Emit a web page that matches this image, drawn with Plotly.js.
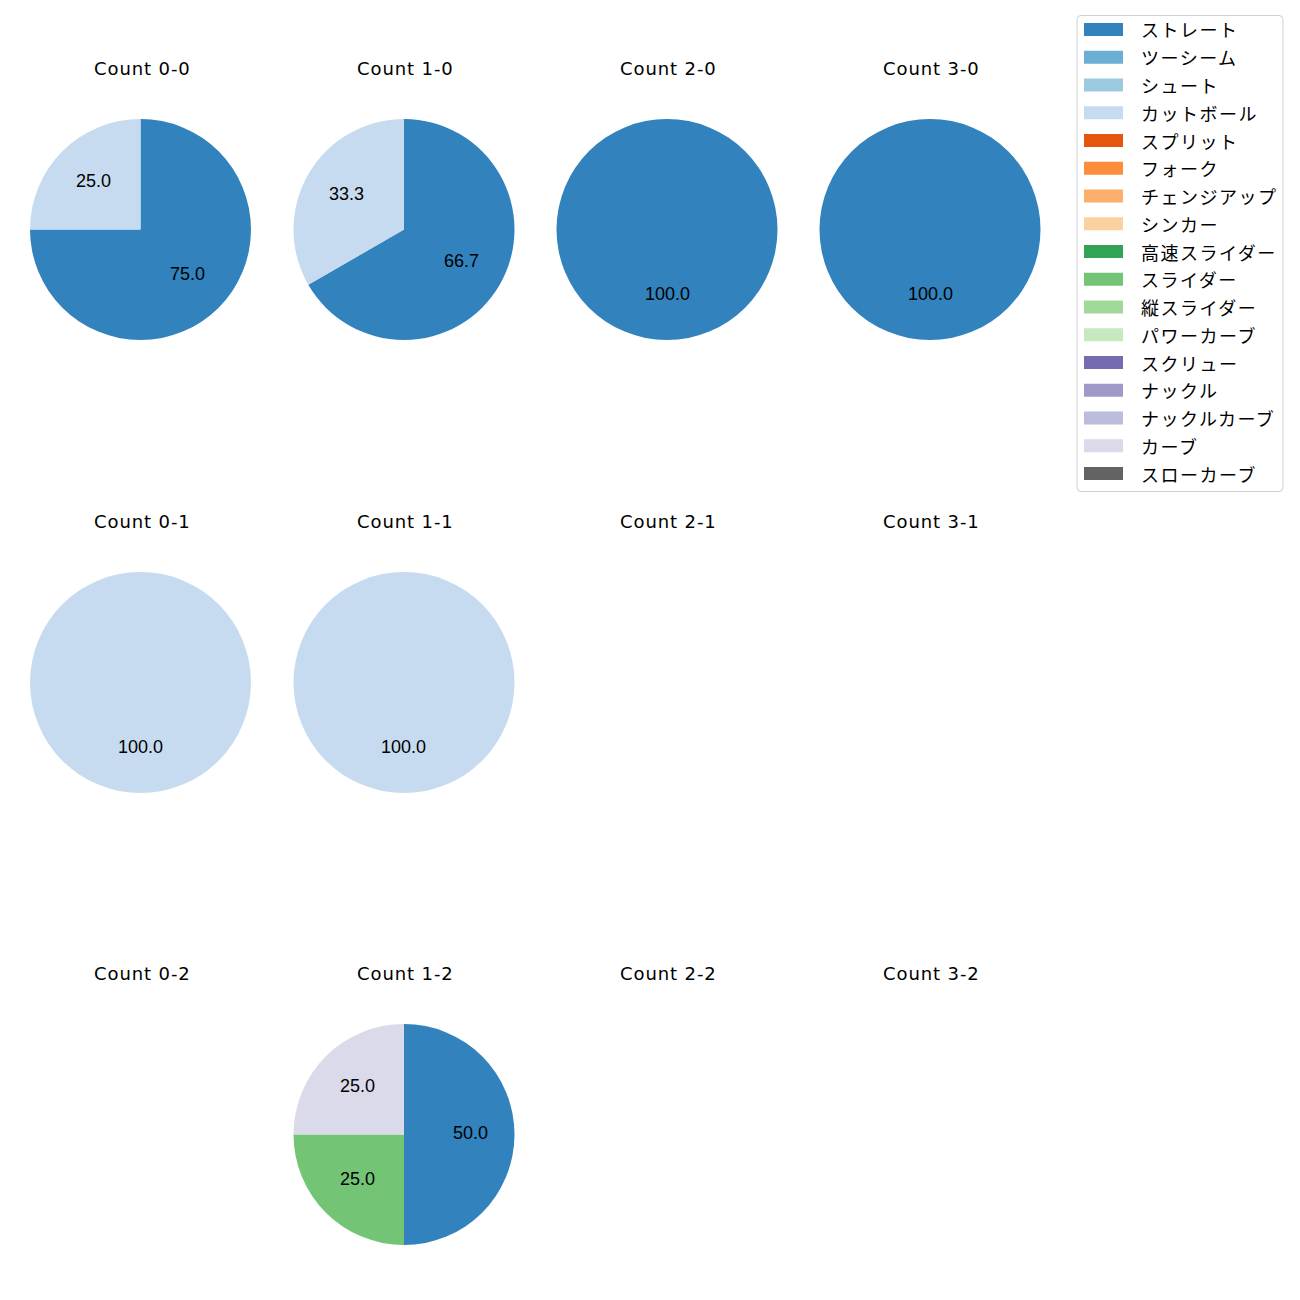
<!DOCTYPE html>
<html>
<head>
<meta charset="utf-8">
<script src="https://cdn.plot.ly/plotly-3.0.1.min.js"></script>
<style>html,body{margin:0;padding:0;background:#fff;}</style>
</head>
<body>
<div id="chart" style="width:1300px;height:1300px;"></div>
<script>
// Pitch types (legend order) and their colours
const pitchTypes = ['ストレート','ツーシーム','シュート','カットボール','スプリット','フォーク','チェンジアップ','シンカー','高速スライダー','スライダー','縦スライダー','パワーカーブ','スクリュー','ナックル','ナックルカーブ','カーブ','スローカーブ'];
const pitchColors = ['#3182bd','#6baed6','#9ecae1','#c6dbef','#e6550d','#fd8d3c','#fdae6b','#fdd0a2','#31a354','#74c476','#a1d99b','#c7e9c0','#756bb1','#9e9ac8','#bcbddc','#dadaeb','#636363'];

// Subplot titles (row-major, 4 columns x 3 rows)
const countTitles = ['Count 0-0','Count 1-0','Count 2-0','Count 3-0','Count 0-1','Count 1-1','Count 2-1','Count 3-1','Count 0-2','Count 1-2','Count 2-2','Count 3-2'];

// Pitch labels and counts per ball-strike count
const labels00 = ['ストレート','カットボール']; const values00 = [3,1];
const labels10 = ['ストレート','カットボール']; const values10 = [2,1];
const labels20 = ['ストレート']; const values20 = [1];
const labels30 = ['ストレート']; const values30 = [1];
const labels01 = ['カットボール']; const values01 = [1];
const labels11 = ['カットボール']; const values11 = [1];
const labels21 = []; const values21 = [];
const labels31 = []; const values31 = [];
const labels02 = []; const values02 = [];
const labels12 = ['ストレート','スライダー','カーブ']; const values12 = [2,1,1];
const labels22 = []; const values22 = [];
const labels32 = []; const values32 = [];

const allLabels = [labels00,labels10,labels20,labels30,labels01,labels11,labels21,labels31,labels02,labels12,labels22,labels32];
const allValues = [values00,values10,values20,values30,values01,values11,values21,values31,values02,values12,values22,values32];

// Layout geometry (pixels)
const W = 1300, H = 1300;
const colCenters = [140.5, 404, 667, 930];
const rowCenters = [229.5, 682.5, 1134.5];
const titleY = [68.5, 521.5, 973.5];
const R = 110.5;
const TITLE_FONT = '"DejaVu Sans", sans-serif';
const PCT_FONT = '"Liberation Sans", Arial, sans-serif';
const JP_FONT = '"Noto Sans CJK JP", "Noto Sans", sans-serif';
const spaced = (t, px) => '<span style="letter-spacing:' + px + 'px">' + t + '</span>';

const colorOf = {};
pitchTypes.forEach((p,i)=>colorOf[p]=pitchColors[i]);

const data = [];
const annotations = [];
const shapes = [];

for (let k = 0; k < 12; k++) {
  const col = k % 4, row = Math.floor(k / 4);
  const cx = colCenters[col], cy = rowCenters[row];
  annotations.push({
    text: spaced(countTitles[k], 0.9), xref:'paper', yref:'paper',
    x: (cx+1.5) / W, y: 1 - titleY[row] / H, xanchor:'center', yanchor:'middle',
    showarrow:false, font:{family:TITLE_FONT, size:18, color:'#000'}
  });
  const labs = allLabels[k], vals = allValues[k];
  if (!labs.length) continue;
  data.push({
    type:'pie', labels: labs, values: vals, sort:false, direction:'clockwise', rotation:0,
    marker:{colors: labs.map(l=>colorOf[l]), line:{width:0}},
    textinfo:'none', hoverinfo:'skip', showlegend:false,
    domain:{x:[(cx-R)/W,(cx+R)/W], y:[1-(cy+R)/H, 1-(cy-R)/H]}
  });
  // percentage labels at 0.6 radius (matplotlib style)
  const total = vals.reduce((a,b)=>a+b,0);
  let start = 90;
  vals.forEach(v=>{
    const sweep = 360 * v / total;
    const mid = (start - sweep/2) * Math.PI / 180;
    start -= sweep;
    const px = cx + 0.6*R*Math.cos(mid);
    const py = cy - 0.6*R*Math.sin(mid) - 2;
    annotations.push({
      text: (100*v/total).toFixed(1), xref:'paper', yref:'paper',
      x: px/W, y: 1-py/H, xanchor:'center', yanchor:'middle', showarrow:false,
      font:{family:PCT_FONT, size:18, color:'#000'}
    });
  });
}

// Legend (drawn manually, matplotlib style)
const lgX0 = 1077, lgX1 = 1283, lgY0 = 15.5, lgY1 = 491.5;
shapes.push({type:'path', xref:'paper', yref:'paper',
  path: (()=>{
    const r = 4;
    const P=(x,y)=>(x/W)+','+(1-y/H);
    return 'M'+P(lgX0+r,lgY0)+' L'+P(lgX1-r,lgY0)+' Q'+P(lgX1,lgY0)+' '+P(lgX1,lgY0+r)+
      ' L'+P(lgX1,lgY1-r)+' Q'+P(lgX1,lgY1)+' '+P(lgX1-r,lgY1)+
      ' L'+P(lgX0+r,lgY1)+' Q'+P(lgX0,lgY1)+' '+P(lgX0,lgY1-r)+
      ' L'+P(lgX0,lgY0+r)+' Q'+P(lgX0,lgY0)+' '+P(lgX0+r,lgY0)+' Z';
  })(),
  line:{color:'#d0d0d0', width:1}, fillcolor:'rgba(255,255,255,0.8)'});
const lgStep = 27.75, lgFirst = 29.5;
pitchTypes.forEach((p,i)=>{
  const y = lgFirst + i*lgStep;
  shapes.push({type:'rect', xref:'paper', yref:'paper',
    x0:1084/W, x1:1123/W, y0:1-(y-6.5)/H, y1:1-(y+6.5)/H,
    fillcolor: pitchColors[i], line:{width:0}});
  annotations.push({text:spaced(p, 1.5), xref:'paper', yref:'paper', x:1139/W, y:1-y/H,
    xanchor:'left', yanchor:'middle', showarrow:false,
    font:{family:JP_FONT, size:18, color:'#000'}});
});

const layout = {
  width: W, height: H, margin:{l:0,r:0,t:0,b:0},
  paper_bgcolor:'#fff', plot_bgcolor:'#fff',
  showlegend:false, annotations, shapes,
  font:{family:JP_FONT}
};
Plotly.newPlot('chart', data, layout, {staticPlot:true, displayModeBar:false});
</script>
</body>
</html>
